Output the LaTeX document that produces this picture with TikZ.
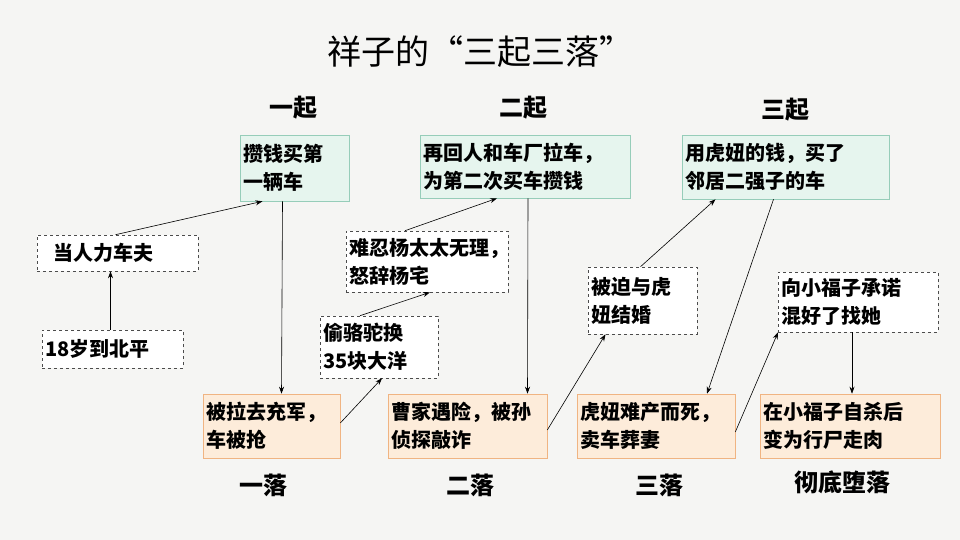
\documentclass[tikz,border=0pt]{standalone}
\usepackage{fontspec}
\setmainfont{Noto Sans CJK SC}
\usetikzlibrary{arrows.meta}
\definecolor{bgcol}{RGB}{245,245,243}
\definecolor{upfill}{RGB}{230,245,238}
\definecolor{downfill}{RGB}{253,236,218}
\definecolor{upline}{RGB}{150,205,185}
\definecolor{downline}{RGB}{240,180,130}
\tikzset{every picture/.style={line width=0.75pt},
  stepbox/.style={inner sep=3pt,align=left,font=\fontsize{20}{28}\selectfont\bfseries},
  upbox/.style={stepbox,fill=upfill,draw=upline,line width=0.6pt},
  downbox/.style={stepbox,fill=downfill,draw=downline,line width=0.6pt},
  midbox/.style={stepbox,fill=white,draw=black!70,dashed,line width=0.6pt},
  head/.style={font=\fontsize{24}{28}\selectfont\bfseries},
  arr/.style={-{Stealth[length=7pt,width=5pt]},line width=0.6pt}}
\begin{document}
\begin{tikzpicture}[x=1pt,y=1pt,yscale=-1]
				%background
				\fill[bgcol] (0,0) rectangle (960,540);
				\useasboundingbox (0,0) rectangle (960,540);
				%title
				\node (title) at (480,52) {\fontsize{34}{38}\selectfont 祥子的“三起三落”};
				%headers
				\node[head] (up1) at (293,108) {一起};
				\node[head] (up2) at (523,108) {二起};
				\node[head] (up3) at (785,110) {三起};
				\node[head] (down1) at (263,485) {一落};
				\node[head] (down2) at (470,485) {二落};
				\node[head] (down3) at (659,485) {三落};
				\node[head] (down4) at (842,482) {彻底堕落};
				%rise boxes
				\node[upbox,minimum width=109,minimum height=66,text width=102] (buy1) at (294.5,168) {攒钱买第\\一辆车};
				\node[upbox,minimum width=210,minimum height=63,text width=203] (buy2) at (525,166.5) {再回人和车厂拉车，\\为第二次买车攒钱};
				\node[upbox,minimum width=207,minimum height=64,text width=200] (buy3) at (785.5,167) {用虎妞的钱，买了\\邻居二强子的车};
				%middle boxes
				\node[midbox,minimum width=161,minimum height=36,text width=154] (puller) at (117.5,253) {\ \ 当人力车夫};
				\node[midbox,minimum width=141,minimum height=38,text width=134] (peking) at (112.5,349) {18岁到北平};
				\node[midbox,minimum width=162,minimum height=61,text width=155] (yang) at (427,261.5) {难忍杨太太无理，\\怒辞杨宅};
				\node[midbox,minimum width=118,minimum height=62,text width=111] (camel) at (379,347) {偷骆驼换\\35块大洋};
				\node[midbox,minimum width=109,minimum height=67,text width=102] (marry) at (642.5,300.5) {被迫与虎\\妞结婚};
				\node[midbox,minimum width=160,minimum height=60,text width=153] (promise) at (858,302) {向小福子承诺\\混好了找她};
				%fall boxes
				\node[downbox,minimum width=137,minimum height=64,text width=130] (army) at (271.5,426) {被拉去充军，\\车被抢};
				\node[downbox,minimum width=159,minimum height=64,text width=152] (cao) at (467.5,426) {曹家遇险，被孙\\侦探敲诈};
				\node[downbox,minimum width=158,minimum height=64,text width=151] (death) at (656,426) {虎妞难产而死，\\卖车葬妻};
				\node[downbox,minimum width=180,minimum height=64,text width=173] (empty) at (850,426) {在小福子自杀后\\变为行尸走肉};
				%connectors
				\draw[arr] ([xshift=-2pt]puller.north) -- ([xshift=-32pt]buy1.south);
				\draw[arr] ([xshift=-2pt]peking.north) -- ([xshift=-7pt]puller.south);
				\draw[arr] ([xshift=-12pt]buy1.south) -- ([xshift=10pt]army.north);
				\draw[arr] ([yshift=-3pt]army.east) -- ([xshift=3pt]camel.south);
				\draw[arr] ([xshift=-19pt]camel.north) -- ([xshift=3pt]yang.south);
				\draw[arr] ([xshift=-22pt]yang.north) -- ([xshift=-28pt]buy2.south);
				\draw[arr] ([xshift=3pt]buy2.south) -- ([xshift=60pt]cao.north);
				\draw[arr] ([yshift=4pt]cao.east) -- ([xshift=-37pt]marry.south);
				\draw[arr] ([xshift=-2pt]marry.north) -- ([xshift=-70pt]buy3.south);
				\draw[arr] ([xshift=-12pt]buy3.south) -- ([xshift=51pt]death.north);
				\draw[arr] ([yshift=6pt]death.east) -- ([xshift=-80pt]promise.south);
				\draw[arr] ([xshift=-6pt]promise.south) -- ([xshift=2pt]empty.north);
			\end{tikzpicture}
\end{document}
